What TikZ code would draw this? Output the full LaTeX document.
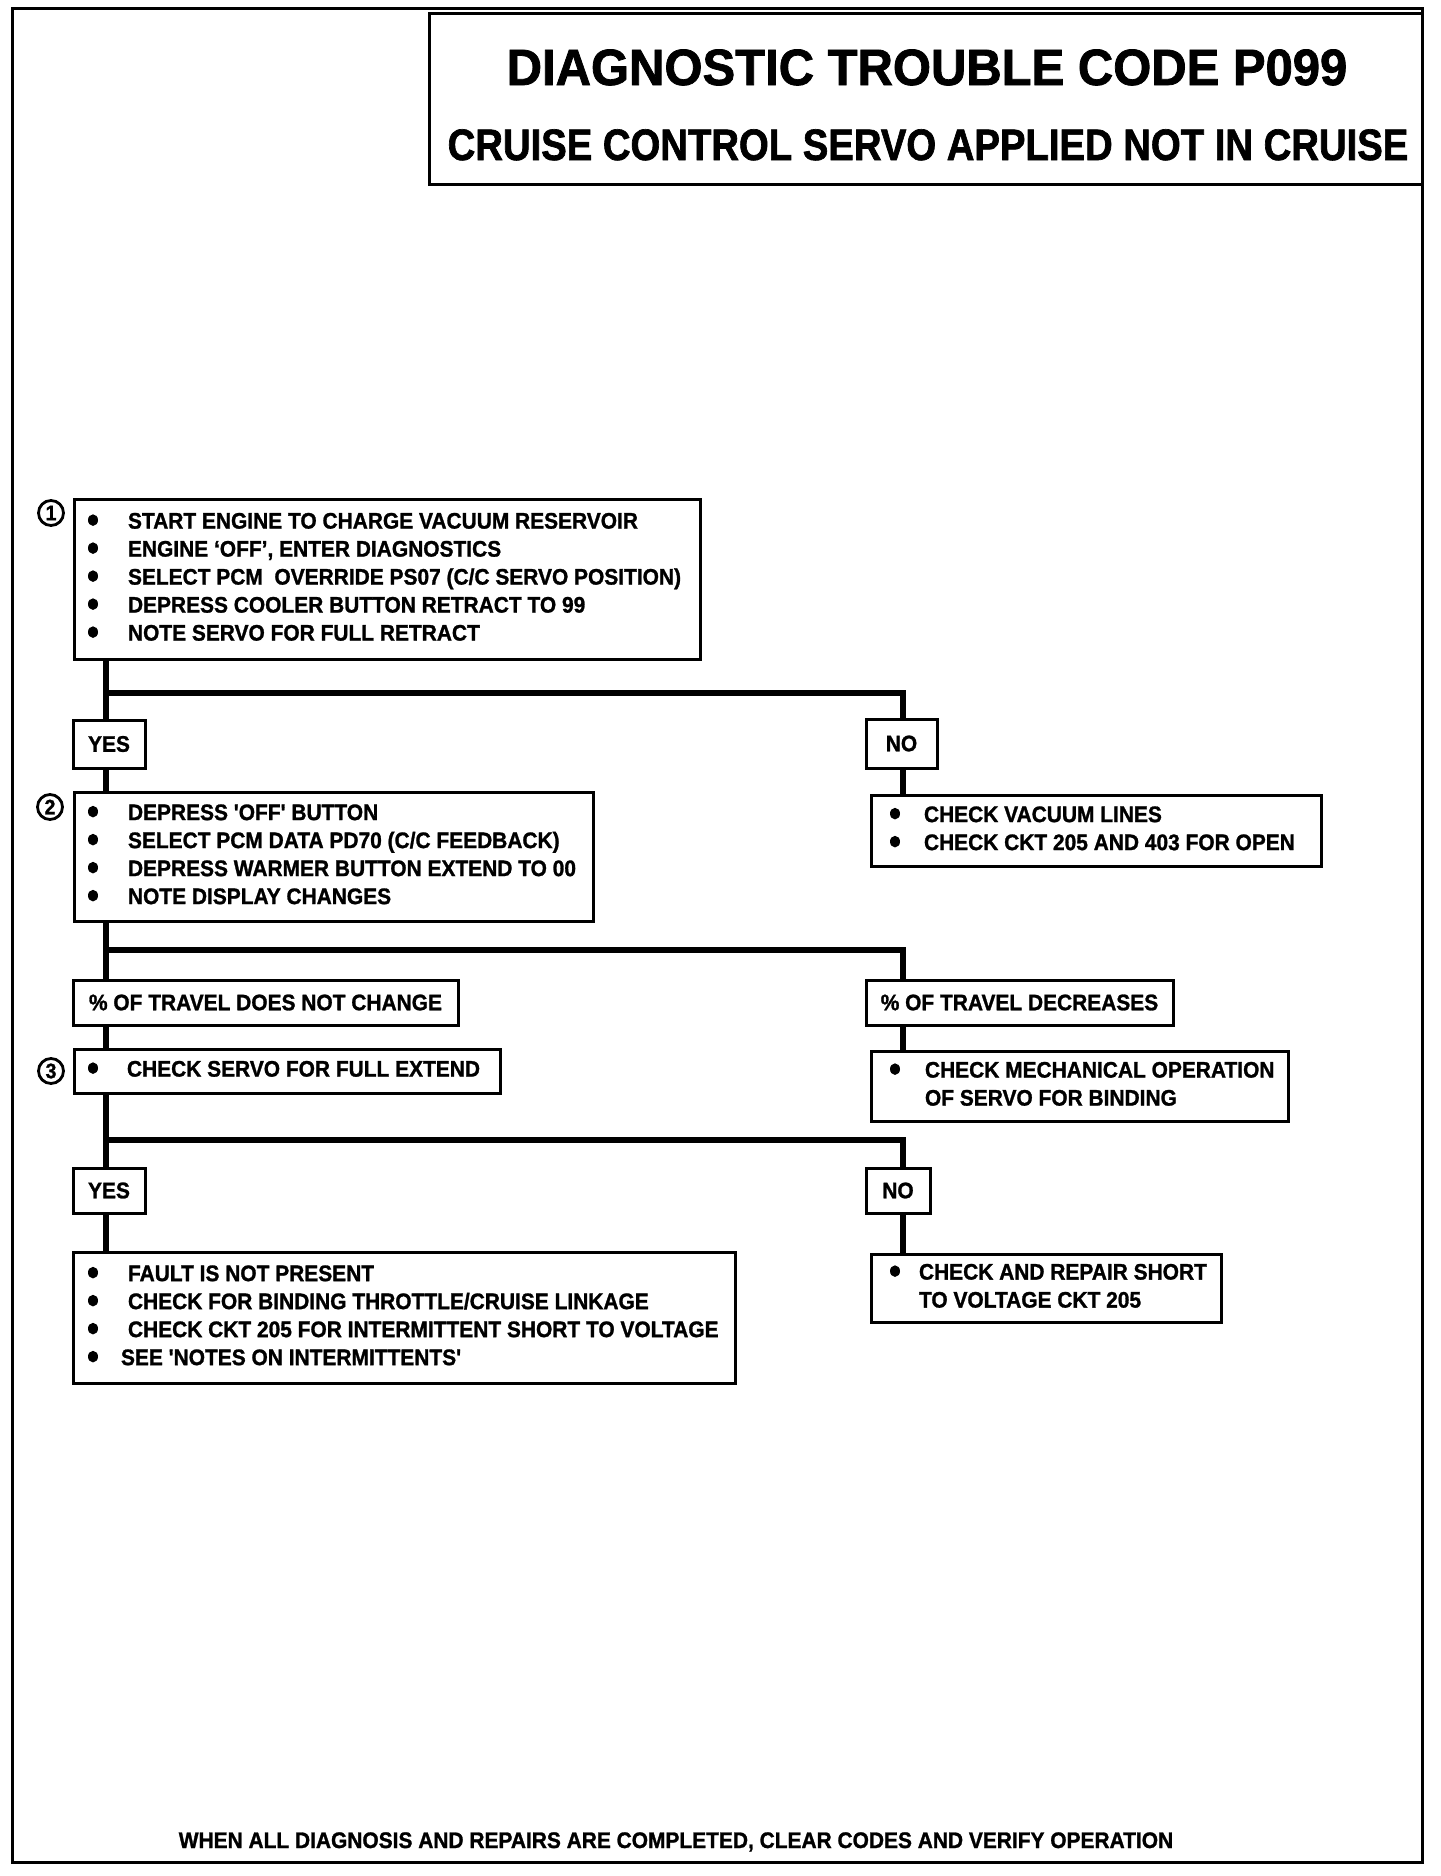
\documentclass[tikz,border=0pt]{standalone}
\usepackage{fontspec}
\newfontfamily\bodyf{Liberation Sans}[FakeStretch=0.93,Ligatures=TeXOff,BoldFeatures={FakeBold=1.2}]
\newfontfamily\titlefa{Liberation Sans}[FakeStretch=0.96,BoldFeatures={FakeBold=1.5}]
\newfontfamily\titlefb{Liberation Sans}[FakeStretch=0.87,BoldFeatures={FakeBold=1.5}]
\newcommand\bul[1][40pt]{\makebox[#1][l]{\tikz[baseline=-8.5pt]\fill (5pt,0pt) ellipse [x radius=5pt, y radius=5.8pt];}}
\newcommand\blist[2]{\makebox[#1][l]{\begin{tabular}{@{}l@{}l@{}}#2\end{tabular}}}
\begin{document}
\begin{tikzpicture}[x=1pt,y=-1pt,
  bx/.style={draw, line width=3pt, rectangle, outer sep=0pt, inner ysep=0pt, anchor=north west,
    font=\bodyf\bfseries\fontsize{22.5}{28}\selectfont},
  lbl/.style={bx, inner xsep=0pt, align=center},
  conn/.style={line width=6pt},
  circ/.style={draw, circle, line width=2.8pt, minimum size=25pt, inner sep=0pt,
    font=\bodyf\bfseries\fontsize{21}{22}\selectfont},
  ttl/.style={anchor=base, inner sep=0pt}]
\useasboundingbox (0,0) rectangle (1440,1876);
% frame and title
\draw[line width=3pt] (12,9) rectangle (1422,1862);
\node[bx, minimum width=993pt, minimum height=170pt] (title) at (429,14) {};
\node[ttl, font=\titlefa\bfseries\fontsize{51}{56}\selectfont] (t1) at (927,85) {DIAGNOSTIC TROUBLE CODE P099};
\node[ttl, font=\titlefb\bfseries\fontsize{44}{48}\selectfont] (t2) at (928,160) {CRUISE CONTROL SERVO APPLIED NOT IN CRUISE};
% step 1
\node[bx, minimum width=626pt, minimum height=160pt, inner xsep=14pt] (b1) at (74,499)
  {\blist{598pt}{\bul & START ENGINE TO CHARGE VACUUM RESERVOIR\\
   \bul & ENGINE ‘OFF’, ENTER DIAGNOSTICS\\
   \bul & SELECT PCM\ \ OVERRIDE PS07 (C/C SERVO POSITION)\\
   \bul & DEPRESS COOLER BUTTON RETRACT TO 99\\
   \bul & NOTE SERVO FOR FULL RETRACT}};
\node[circ] (n1) at (51,513) {1};
\coordinate (j1) at (106,693);
\coordinate (k1) at (903,693);
\node[lbl, minimum width=72pt, minimum height=48pt] (yes1) at (73,720) {YES};
\node[lbl, minimum width=71pt, minimum height=49pt] (no1) at (866,719) {NO};
\node[bx, minimum width=450pt, minimum height=71pt, inner xsep=19pt] (r1) at (871,795)
  {\blist{412pt}{\bul[34pt] & CHECK VACUUM LINES\\
   \bul[34pt] & CHECK CKT 205 AND 403 FOR OPEN}};
% step 2
\node[bx, minimum width=519pt, minimum height=129pt, inner xsep=14pt] (b2) at (74,792)
  {\blist{491pt}{\bul & DEPRESS 'OFF' BUTTON\\
   \bul & SELECT PCM DATA PD70 (C/C FEEDBACK)\\
   \bul & DEPRESS WARMER BUTTON EXTEND TO 00\\
   \bul & NOTE DISPLAY CHANGES}};
\node[circ] (n2) at (50,807) {2};
\coordinate (j2) at (106,950);
\coordinate (k2) at (903,950);
\node[lbl, minimum width=385pt, minimum height=45pt] (c1) at (73,980) {\% OF TRAVEL DOES NOT CHANGE};
\node[lbl, minimum width=307pt, minimum height=45pt] (c2) at (866,980) {\% OF TRAVEL DECREASES};
\node[bx, minimum width=417pt, minimum height=70pt, inner xsep=19pt] (r2) at (871,1051)
  {\blist{379pt}{\bul[35pt] & CHECK MECHANICAL OPERATION\\
   & OF SERVO FOR BINDING}};
% step 3
\node[bx, minimum width=426pt, minimum height=44pt, inner xsep=14pt] (b3) at (74,1049)
  {\blist{398pt}{\bul[39pt] & CHECK SERVO FOR FULL EXTEND}};
\node[circ] (n3) at (51,1071) {3};
\coordinate (j3) at (106,1140);
\coordinate (k3) at (903,1140);
\node[lbl, minimum width=72pt, minimum height=45pt] (yes2) at (73,1168) {YES};
\node[lbl, minimum width=64pt, minimum height=45pt] (no2) at (866,1168) {NO};
\node[bx, minimum width=662pt, minimum height=131pt, inner xsep=15pt] (b4) at (73,1252)
  {\blist{632pt}{\bul & FAULT IS NOT PRESENT\\
   \bul & CHECK FOR BINDING THROTTLE/CRUISE LINKAGE\\
   \bul & CHECK CKT 205 FOR INTERMITTENT SHORT TO VOLTAGE\\
   \bul & \hspace*{-7pt}SEE 'NOTES ON INTERMITTENTS'}};
\node[bx, minimum width=350pt, minimum height=68pt, inner xsep=19pt] (r3) at (871,1254)
  {\blist{312pt}{\bul[29pt] & CHECK AND REPAIR SHORT\\
   & TO VOLTAGE CKT 205}};
% footer
\node[ttl, font=\bodyf\bfseries\fontsize{22.5}{28}\selectfont] (foot) at (676,1848)
  {WHEN ALL DIAGNOSIS AND REPAIRS ARE COMPLETED, CLEAR CODES AND VERIFY OPERATION};
% connectors
\draw[conn] (b1.south -| j1) -- (j1) -- (j1 |- yes1.north);
\draw[conn] (j1) -- (k1) -- (k1 |- no1.north);
\draw[conn] (no1.south -| k1) -- (r1.north -| k1);
\draw[conn] (yes1.south -| j1) -- (b2.north -| j1);
\draw[conn] (b2.south -| j2) -- (j2) -- (j2 |- c1.north);
\draw[conn] (j2) -- (k2) -- (k2 |- c2.north);
\draw[conn] (c2.south -| k2) -- (r2.north -| k2);
\draw[conn] (c1.south -| j2) -- (b3.north -| j2);
\draw[conn] (b3.south -| j3) -- (j3) -- (j3 |- yes2.north);
\draw[conn] (j3) -- (k3) -- (k3 |- no2.north);
\draw[conn] (no2.south -| k3) -- (r3.north -| k3);
\draw[conn] (yes2.south -| j3) -- (b4.north -| j3);
\end{tikzpicture}
\end{document}
